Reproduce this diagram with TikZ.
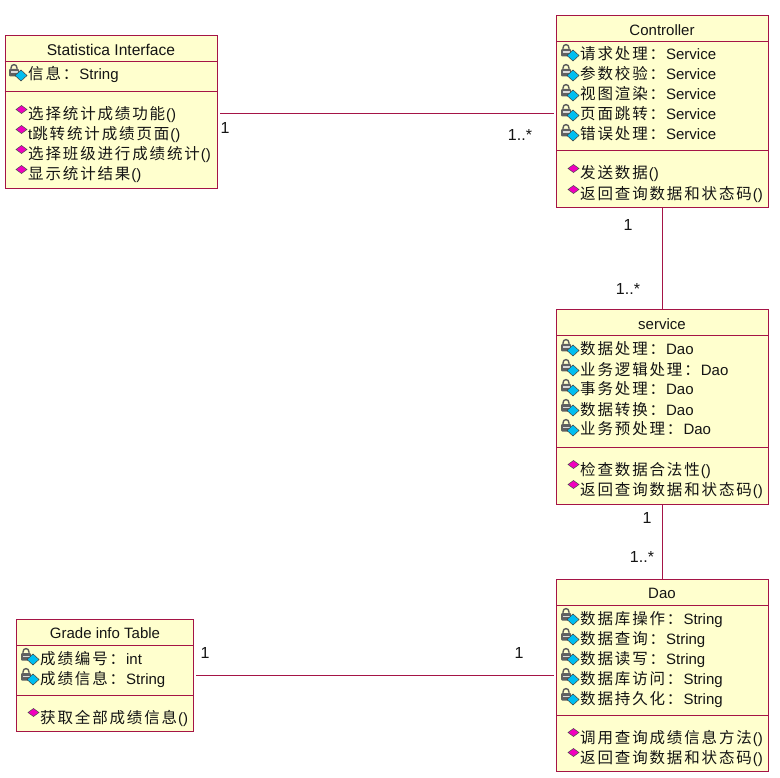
\documentclass[tikz,border=0pt]{standalone}
\usepackage{fontspec}
\setmainfont{Liberation Sans}
\newfontfamily\cjk[LetterSpace=12]{Noto Sans CJK SC}
\definecolor{umlfill}{RGB}{255,255,206}
\definecolor{umlline}{RGB}{165,20,70}
\definecolor{umltext}{RGB}{20,20,20}
\definecolor{keyblue}{RGB}{0,190,240}
\definecolor{methpink}{RGB}{240,0,190}
\tikzset{
  x=1pt,y=-1pt,
  classbox/.style={draw=umlline,fill=umlfill,line width=1pt,minimum width=#1,inner sep=0pt,anchor=north west,rectangle},
  classbox/.default=212pt,
  divider/.style={draw=umlline,line width=1pt},
  assoc/.style={draw=umlline,line width=1pt},
  rowtext/.style={anchor=base west,inner sep=0pt,text=umltext,font=\fontsize{15}{15}\selectfont},
  titletext/.style={anchor=base,inner sep=0pt,text=umltext,font=\fontsize{15}{15}\selectfont},
  multi/.style={anchor=center,inner sep=0pt,text=umltext,font=\fontsize{16}{16}\selectfont},
}
\newcommand{\zh}[1]{{\cjk\fontsize{15.5}{15.5}\selectfont #1}\hspace{1pt}}
\newcommand{\attr}[3]{%
  \begin{scope}[shift={(#1,#2+1)}]
    \draw[black!65,line width=1.4pt] (-17,-10) -- (-17,-12) .. controls (-17,-16.5) and (-11,-16.5) .. (-11,-12) -- (-11,-10);
    \fill[black!62,rounded corners=1pt] (-19,-11) rectangle (-9,-3.5);
    \fill[white!85!black] (-17.5,-8.5) rectangle (-10.5,-7.2);
    \fill[keyblue,draw=black!75,line width=.5pt] (-7,-10) -- (-1,-4.5) -- (-7,1) -- (-13,-4.5) -- cycle;
  \end{scope}
  \node[rowtext] at (#1,#2+1) {#3};}
\newcommand{\meth}[3]{%
  \fill[methpink,draw=black!70,line width=.5pt] (#1-6.5,#2-13.5) -- (#1-1,#2-9.5) -- (#1-6.5,#2-5.5) -- (#1-12,#2-9.5) -- cycle;
  \node[rowtext] at (#1,#2+1) {#3};}
\begin{document}
\begin{tikzpicture}
\useasboundingbox (0,0) rectangle (780,778);
\fill[white] (0,0) rectangle (780,778);

% class boxes
\node[classbox=212.5pt,minimum height=152.5pt] (stat) at (4.5,35.5) {};
\node[classbox=212pt,minimum height=192.5pt] (ctrl) at (556,15) {};
\node[classbox=212pt,minimum height=194.5pt] (serv) at (556,309) {};
\node[classbox=212pt,minimum height=192pt] (dao) at (556,579) {};
\node[classbox=177pt,minimum height=112pt] (grade) at (16,619) {};

% helper coordinates for the connector ends
\coordinate (statR) at ([xshift=2pt,yshift=-1.3pt]stat.east);
\coordinate (ctrlL) at ([xshift=-2pt]ctrl.west);
\coordinate (gradeR) at ([xshift=2pt]grade.east);
\coordinate (daoL) at ([xshift=-2pt]dao.west);

% connectors
\draw[assoc] (statR) -- (statR -| ctrlL);
\draw[assoc] (ctrl.south) -- (serv.north);
\draw[assoc] (serv.south) -- (dao.north);
\draw[assoc] (gradeR) -- (gradeR -| daoL);

% dividers
\draw[divider] (stat.west |- 0,62) -- (stat.east |- 0,62);
\draw[divider] (stat.west |- 0,92) -- (stat.east |- 0,92);
\draw[divider] (ctrl.west |- 0,41.5) -- (ctrl.east |- 0,41.5);
\draw[divider] (ctrl.west |- 0,151) -- (ctrl.east |- 0,151);
\draw[divider] (serv.west |- 0,336) -- (serv.east |- 0,336);
\draw[divider] (serv.west |- 0,447) -- (serv.east |- 0,447);
\draw[divider] (dao.west |- 0,605) -- (dao.east |- 0,605);
\draw[divider] (dao.west |- 0,715) -- (dao.east |- 0,715);
\draw[divider] (grade.west |- 0,645) -- (grade.east |- 0,645);
\draw[divider] (grade.west |- 0,695) -- (grade.east |- 0,695);

% Statistica
\node[titletext,font=\fontsize{15.6}{16}\selectfont] (t1) at (111,56) {Statistica Interface};
\attr{28}{79}{\zh{信息：}String}
\meth{28}{119}{\zh{选择统计成绩功能}()}
\meth{28}{139}{t\zh{跳转统计成绩页面}()}
\meth{28}{159}{\zh{选择班级进行成绩统计}()}
\meth{28}{179}{\zh{显示统计结果}()}

% Controller
\node[titletext] (t2) at (662,36) {Controller};
\attr{580}{59}{\zh{请求处理：}Service}
\attr{580}{79}{\zh{参数校验：}Service}
\attr{580}{99}{\zh{视图渲染：}Service}
\attr{580}{119}{\zh{页面跳转：}Service}
\attr{580}{139}{\zh{错误处理：}Service}
\meth{580}{178}{\zh{发送数据}()}
\meth{580}{199}{\zh{返回查询数据和状态码}()}

% service
\node[titletext] (t3) at (662,330) {service};
\attr{580}{354}{\zh{数据处理：}Dao}
\attr{580}{374}{\zh{业务逻辑处理：}Dao}
\attr{580}{394}{\zh{事务处理：}Dao}
\attr{580}{414}{\zh{数据转换：}Dao}
\attr{580}{434}{\zh{业务预处理：}Dao}
\meth{580}{474}{\zh{检查数据合法性}()}
\meth{580}{494}{\zh{返回查询数据和状态码}()}

% Dao
\node[titletext] (t4) at (662,598) {Dao};
\attr{580}{623}{\zh{数据库操作：}String}
\attr{580}{643}{\zh{数据查询：}String}
\attr{580}{663}{\zh{数据读写：}String}
\attr{580}{683}{\zh{数据库访问：}String}
\attr{580}{703}{\zh{数据持久化：}String}
\meth{580}{742}{\zh{调用查询成绩信息方法}()}
\meth{580}{762}{\zh{返回查询数据和状态码}()}

% Grade
\node[titletext] (t5) at (105,638) {Grade info Table};
\attr{40}{663}{\zh{成绩编号：}int}
\attr{40}{683}{\zh{成绩信息：}String}
\meth{40}{722}{\zh{获取全部成绩信息}()}

% multiplicities
\node[multi] (m1) at (225,128) {1};
\node[multi] (m2) at (520,135) {1..*};
\node[multi] (m3) at (628,225) {1};
\node[multi] (m4) at (628,289) {1..*};
\node[multi] (m5) at (647,518) {1};
\node[multi] (m6) at (642,557) {1..*};
\node[multi] (m7) at (205,653) {1};
\node[multi] (m8) at (519,653) {1};
\end{tikzpicture}
\end{document}
